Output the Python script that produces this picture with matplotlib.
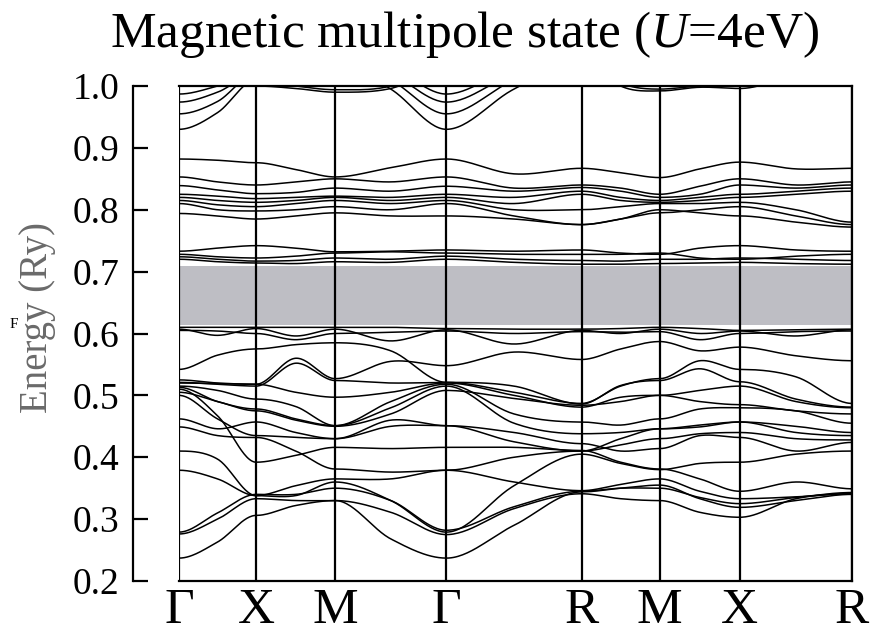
import numpy as np
import matplotlib.pyplot as plt

plt.rcParams['font.family'] = ['Liberation Serif', 'DejaVu Serif']
plt.rcParams['mathtext.fontset'] = 'custom'
plt.rcParams['mathtext.rm'] = 'Liberation Serif'
plt.rcParams['mathtext.it'] = 'Liberation Serif:italic'

# k-path (distance along the path, high-symmetry points)
kpath_labels = ['Γ', 'X', 'M', 'Γ', 'R', 'M', 'X', 'R']
kpath_pos = [0, 77, 156, 267, 402, 480, 560, 672]

# gap shading (Ry)
gap_bottom = 0.614
gap_top = 0.709

# energies (Ry) at each high-symmetry point and the middle of each segment:
# Γ, ., X, ., M, ., Γ, ., R, ., M, ., X, ., R
top_bands = [
    [0.930, 0.957, 1.010, 1.040, 1.040, 0.995, 0.930, 0.995, 1.040, 1.050, 1.050, 1.050, 1.050, 1.050, 1.050],
    [0.955, 0.975, 1.020, 1.050, 1.050, 1.010, 0.955, 1.010, 1.050, 1.050, 1.050, 1.050, 1.050, 1.050, 1.050],
    [0.974, 0.990, 1.020, 1.050, 1.050, 1.020, 0.974, 1.020, 1.050, 1.050, 1.050, 1.050, 1.050, 1.050, 1.050],
    [0.987, 1.000, 1.020, 1.050, 1.050, 1.030, 0.987, 1.030, 1.050, 1.050, 1.050, 1.050, 1.050, 1.050, 1.050],
    [1.050, 1.030, 1.000, 0.996, 0.990, 0.996, 1.030, 1.050, 1.050, 1.000, 0.992, 0.998, 0.996, 1.020, 1.050],
    [1.050, 1.040, 1.010, 1.000, 0.994, 1.000, 1.040, 1.050, 1.050, 1.005, 0.995, 1.000, 1.000, 1.030, 1.050],
]

upper_bands = [
    [0.882, 0.880, 0.876, 0.865, 0.853, 0.868, 0.882, 0.858, 0.867, 0.860, 0.852, 0.866, 0.877, 0.866, 0.867],
    [0.853, 0.845, 0.840, 0.845, 0.850, 0.845, 0.853, 0.835, 0.840, 0.835, 0.825, 0.838, 0.850, 0.840, 0.845],
    [0.839, 0.832, 0.826, 0.828, 0.835, 0.830, 0.838, 0.830, 0.836, 0.830, 0.820, 0.825, 0.840, 0.835, 0.840],
    [0.825, 0.822, 0.818, 0.820, 0.822, 0.820, 0.825, 0.820, 0.830, 0.820, 0.815, 0.820, 0.825, 0.830, 0.835],
    [0.820, 0.815, 0.812, 0.815, 0.820, 0.815, 0.820, 0.810, 0.825, 0.815, 0.812, 0.815, 0.820, 0.825, 0.830],
    [0.815, 0.808, 0.805, 0.810, 0.815, 0.810, 0.815, 0.800, 0.800, 0.805, 0.810, 0.810, 0.812, 0.800, 0.780],
    [0.810, 0.800, 0.798, 0.800, 0.805, 0.800, 0.810, 0.790, 0.776, 0.785, 0.795, 0.800, 0.805, 0.790, 0.776],
    [0.794, 0.790, 0.785, 0.790, 0.795, 0.790, 0.790, 0.785, 0.776, 0.785, 0.800, 0.795, 0.790, 0.780, 0.772],
]

edge_bands = [
    [0.733, 0.738, 0.742, 0.738, 0.732, 0.733, 0.735, 0.733, 0.735, 0.730, 0.728, 0.738, 0.742, 0.735, 0.733],
    [0.728, 0.724, 0.722, 0.725, 0.730, 0.732, 0.730, 0.728, 0.728, 0.728, 0.730, 0.722, 0.720, 0.725, 0.728],
    [0.724, 0.720, 0.717, 0.718, 0.722, 0.720, 0.725, 0.720, 0.718, 0.717, 0.720, 0.720, 0.722, 0.720, 0.718],
    [0.720, 0.716, 0.714, 0.713, 0.716, 0.715, 0.720, 0.715, 0.712, 0.712, 0.713, 0.714, 0.715, 0.713, 0.712],
]

lower_bands = [
    [0.610, 0.610, 0.610, 0.610, 0.610, 0.610, 0.608, 0.607, 0.607, 0.608, 0.610, 0.608, 0.605, 0.606, 0.607],
    [0.607, 0.597, 0.608, 0.596, 0.607, 0.588, 0.606, 0.583, 0.605, 0.600, 0.607, 0.600, 0.604, 0.596, 0.606],
    [0.605, 0.604, 0.600, 0.590, 0.600, 0.602, 0.604, 0.600, 0.603, 0.602, 0.603, 0.590, 0.600, 0.603, 0.604],
    [0.542, 0.565, 0.575, 0.582, 0.585, 0.572, 0.521, 0.505, 0.487, 0.515, 0.527, 0.556, 0.542, 0.530, 0.487],
    [0.525, 0.520, 0.518, 0.560, 0.527, 0.555, 0.548, 0.570, 0.558, 0.575, 0.587, 0.572, 0.578, 0.564, 0.556],
    [0.521, 0.518, 0.515, 0.552, 0.524, 0.520, 0.521, 0.515, 0.486, 0.516, 0.524, 0.543, 0.522, 0.494, 0.481],
    [0.520, 0.519, 0.518, 0.505, 0.497, 0.505, 0.520, 0.500, 0.481, 0.497, 0.500, 0.508, 0.515, 0.490, 0.480],
    [0.515, 0.508, 0.494, 0.482, 0.451, 0.490, 0.518, 0.470, 0.457, 0.452, 0.462, 0.478, 0.480, 0.475, 0.455],
    [0.513, 0.490, 0.478, 0.462, 0.451, 0.480, 0.515, 0.455, 0.438, 0.440, 0.446, 0.449, 0.457, 0.440, 0.435],
    [0.510, 0.467, 0.392, 0.403, 0.416, 0.414, 0.416, 0.416, 0.411, 0.392, 0.381, 0.365, 0.345, 0.360, 0.349],
    [0.500, 0.462, 0.435, 0.432, 0.430, 0.450, 0.451, 0.440, 0.422, 0.410, 0.414, 0.435, 0.432, 0.410, 0.424],
    [0.505, 0.490, 0.475, 0.460, 0.450, 0.470, 0.508, 0.495, 0.484, 0.490, 0.500, 0.490, 0.485, 0.475, 0.470],
    [0.462, 0.446, 0.457, 0.440, 0.430, 0.460, 0.451, 0.425, 0.410, 0.430, 0.446, 0.452, 0.457, 0.450, 0.440],
    [0.449, 0.435, 0.432, 0.410, 0.381, 0.376, 0.379, 0.360, 0.346, 0.356, 0.365, 0.345, 0.333, 0.336, 0.341],
    [0.410, 0.397, 0.338, 0.354, 0.365, 0.365, 0.379, 0.400, 0.410, 0.420, 0.430, 0.438, 0.440, 0.430, 0.428],
    [0.379, 0.365, 0.338, 0.338, 0.360, 0.330, 0.279, 0.354, 0.405, 0.390, 0.380, 0.390, 0.392, 0.405, 0.410],
    [0.279, 0.310, 0.340, 0.340, 0.350, 0.330, 0.282, 0.320, 0.345, 0.350, 0.350, 0.335, 0.325, 0.335, 0.343],
    [0.276, 0.300, 0.333, 0.330, 0.330, 0.311, 0.275, 0.317, 0.341, 0.333, 0.330, 0.311, 0.303, 0.333, 0.341],
    [0.237, 0.263, 0.306, 0.322, 0.330, 0.268, 0.237, 0.290, 0.344, 0.350, 0.355, 0.333, 0.319, 0.330, 0.340],
]


def band_curve(vals, n=30):
    # smooth curve through the read values: flat at the high-symmetry points
    xs, ys = [], []
    for i in range(len(kpath_pos) - 1):
        x0, x1 = kpath_pos[i], kpath_pos[i + 1]
        a, m, b = vals[2 * i], vals[2 * i + 1], vals[2 * i + 2]
        xm = (x0 + x1) / 2
        sm = (b - a) / (x1 - x0)
        for (xa, ya, sa, xb, yb, sb) in [(x0, a, 0.0, xm, m, sm), (xm, m, sm, x1, b, 0.0)]:
            h = xb - xa
            t = np.linspace(0, 1, n)
            y = ((2 * t**3 - 3 * t**2 + 1) * ya + (t**3 - 2 * t**2 + t) * h * sa
                 + (-2 * t**3 + 3 * t**2) * yb + (t**3 - t**2) * h * sb)
            xs.append(xa + t * h)
            ys.append(y)
    return np.concatenate(xs), np.concatenate(ys)


fig = plt.figure(figsize=(8.79, 6.36), dpi=100)
ax = fig.add_axes([179 / 879, 1 - 581 / 636, 673 / 879, 495 / 636])

ax.axhspan(gap_bottom, gap_top, color='#bebec4', lw=0, zorder=0)

for group in [top_bands, upper_bands, edge_bands, lower_bands]:
    for vals in group:
        x, y = band_curve(vals)
        ax.plot(x, y, color='black', lw=1.1, zorder=2)

for k in kpath_pos:
    ax.axvline(k, color='black', lw=1.6, zorder=3)

ax.set_xlim(kpath_pos[0], kpath_pos[-1])
ax.set_ylim(0.2, 1.0)

for s in ['top', 'bottom', 'right']:
    ax.spines[s].set_linewidth(1.6)
# separate energy scale bar left of the panel (offset in points: 46 px)
ax.spines['left'].set_position(('outward', 33))
ax.spines['left'].set_linewidth(1.6)

ax.set_yticks(np.arange(0.2, 1.01, 0.1))
ax.set_yticklabels([f'{v:.1f}' for v in np.arange(0.2, 1.01, 0.1)], fontsize=27)
ax.tick_params(axis='y', direction='in', length=11, width=1.6, pad=10)

ax.set_xticks(kpath_pos)
ax.set_xticklabels(kpath_labels, fontsize=37)
ax.tick_params(axis='x', length=0, pad=5)

fig.text(465 / 879, 1 - 35 / 636, 'Magnetic multipole state ($U$=4eV)', fontsize=37,
         ha='center', va='center')
fig.text(38 / 879, 1 - 317 / 636, 'Energy (Ry)', fontsize=28, rotation=90,
         ha='center', va='center', color='#6a6a6a')
fig.text(14 / 879, 1 - 324 / 636, 'F', fontsize=11, ha='center', va='center', color='black')

fig.savefig('out.png', dpi=100)
